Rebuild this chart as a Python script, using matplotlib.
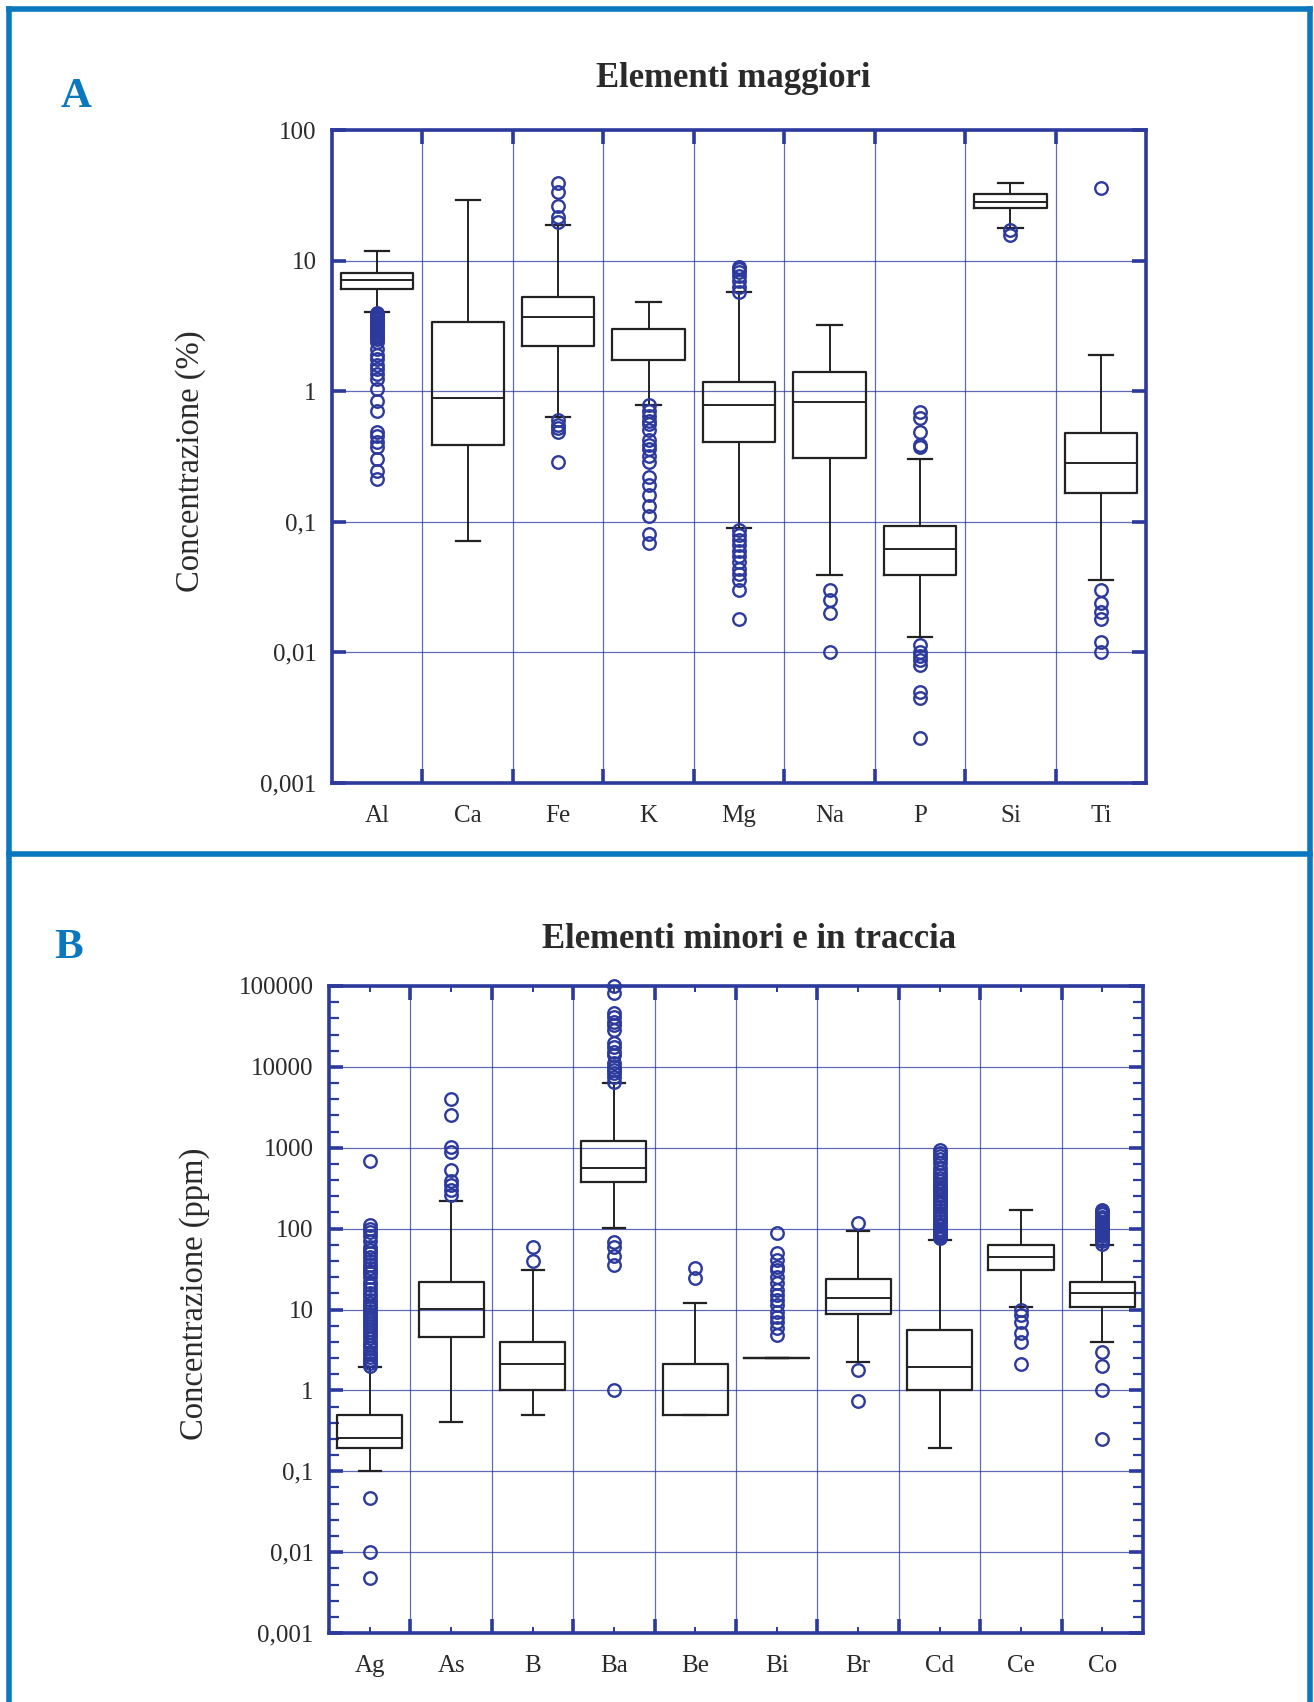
import matplotlib
matplotlib.use('Agg')
import matplotlib.pyplot as plt
from matplotlib.lines import Line2D
from matplotlib.ticker import FixedLocator, NullLocator

plt.rcParams['font.family'] = 'serif'
plt.rcParams['font.serif'] = ['Liberation Serif', 'DejaVu Serif']

# --- A: elementi maggiori (%) ---
maj_names = ['Al', 'Ca', 'Fe', 'K', 'Mg', 'Na', 'P', 'Si', 'Ti']
maj_q1 = [6.1, 0.39, 2.21, 1.73, 0.41, 0.31, 0.039, 25.4, 0.166]
maj_med = [7.06, 0.885, 3.67, 1.73, 0.78, 0.82, 0.062, 28.2, 0.282]
maj_q3 = [8.1, 3.36, 5.22, 2.97, 1.17, 1.40, 0.092, 32.5, 0.478]
maj_lo = [4.07, 0.0716, 0.634, 0.78, 0.09, 0.039, 0.013, 17.9, 0.0355]
maj_hi = [11.9, 29.2, 18.8, 4.86, 5.7, 3.19, 0.30, 39.4, 1.88]
maj_out = [
    [4.0, 3.9, 3.8, 3.7, 3.6, 3.5, 3.4, 3.3, 3.2, 3.1, 3.0, 2.9, 2.8, 2.7,
     2.6, 2.5, 2.4, 2.1, 1.9, 1.75, 1.6, 1.47, 1.35, 1.24, 1.04, 0.84, 0.70,
     0.486, 0.45, 0.41, 0.374, 0.30, 0.245, 0.214],
    [],
    [39, 33.6, 26.3, 21.4, 19.9, 0.60, 0.55, 0.52, 0.49, 0.287],
    [0.78, 0.71, 0.65, 0.59, 0.56, 0.50, 0.42, 0.39, 0.36, 0.32, 0.286,
     0.22, 0.19, 0.159, 0.133, 0.110, 0.081, 0.069],
    [9.0, 8.6, 8.2, 7.6, 7.0, 6.3, 5.8, 0.0859, 0.0786, 0.072, 0.066, 0.060,
     0.055, 0.049, 0.0438, 0.040, 0.0356, 0.030, 0.0179],
    [0.030, 0.025, 0.020, 0.010],
    [0.69, 0.62, 0.486, 0.387, 0.374, 0.0114, 0.0101, 0.0093, 0.0087,
     0.0080, 0.0050, 0.00445, 0.0022],
    [17.2, 15.8],
    [36, 0.030, 0.024, 0.0204, 0.018, 0.012, 0.010],
]
maj_yticks = [0.001, 0.01, 0.1, 1, 10, 100]
maj_ylabels = ['0,001', '0,01', '0,1', '1', '10', '100']

# --- B: elementi minori e in traccia (ppm) ---
min_names = ['Ag', 'As', 'B', 'Ba', 'Be', 'Bi', 'Br', 'Cd', 'Ce', 'Co']
min_q1 = [0.195, 4.58, 1.0, 378, 0.5, 2.5, 8.8, 1.0, 30.9, 10.8]
min_med = [0.259, 10.2, 2.13, 562, 0.5, 2.5, 13.9, 1.95, 44.7, 16.0]
min_q3 = [0.497, 22.2, 3.98, 1213, 2.13, 2.5, 23.9, 5.6, 62.8, 22.2]
min_lo = [0.101, 0.41, 0.5, 102, 0.5, 2.5, 2.25, 0.195, 10.8, 3.98]
min_hi = [1.95, 222, 30.9, 6320, 12.1, 2.5, 93.7, 72.5, 170, 62.8]
min_out = [
    [2.0, 2.2, 2.4, 2.6, 2.8, 3.0, 3.3, 3.6, 4.0, 4.4, 4.8, 5.2, 5.7, 6.2,
     6.8, 7.4, 8.0, 8.7, 9.5, 10.3, 11.2, 12.2, 13.3, 14.5, 16, 18, 20, 22,
     25, 28, 30, 33, 36, 40, 45, 50, 55, 60, 70, 80, 90, 100, 110, 687,
     0.047, 0.010, 0.0048],
    [4010, 2540, 1023, 887, 532, 389, 347, 302, 263],
    [59.4, 40],
    [100000, 81900, 46400, 41400, 35900, 33000, 28600, 19700, 17600, 15300,
     14000, 11200, 9970, 9160, 8410, 7500, 6500, 68.5, 59, 46, 35.6, 1.0],
    [32.7, 24.5],
    [88.5, 50, 41, 33.6, 30.9, 25.3, 21.3, 17.5, 15.1, 13.1, 11.4, 9.3, 8.1,
     7.0, 5.9, 4.85],
    [117, 1.79, 0.74],
    [76, 80, 85, 90, 95, 100, 108, 115, 125, 135, 145, 155, 170, 185, 200,
     215, 230, 250, 270, 290, 310, 330, 360, 390, 420, 460, 500, 560, 640,
     720, 800, 870, 940],
    [9.9, 8.6, 7.0, 5.1, 4.0, 2.13],
    [65, 70, 75, 80, 85, 90, 95, 100, 105, 110, 115, 120, 130, 140, 150,
     160, 170, 3.0, 2.0, 1.0, 0.25],
]
min_yticks = [0.001, 0.01, 0.1, 1, 10, 100, 1000, 10000, 100000]
min_ylabels = ['0,001', '0,01', '0,1', '1', '10', '100', '1000', '10000',
               '100000']

navy = '#2b3a9c'
frame_blue = '#0a78be'
text_col = '#2a2a2a'


def draw_panel(ax, names, q1, med, q3, lo, hi, out, yticks, ylabels,
               minor_ticks):
    stats = []
    for i in range(len(names)):
        stats.append(dict(label=names[i], q1=q1[i], med=med[i], q3=q3[i],
                          whislo=lo[i], whishi=hi[i], fliers=out[i]))
    pos = list(range(1, len(names) + 1))
    ax.bxp(stats, positions=pos, widths=0.8, capwidths=0.27,
           manage_ticks=False, patch_artist=False,
           boxprops=dict(color='#222222', linewidth=1.6),
           medianprops=dict(color='#222222', linewidth=1.4),
           whiskerprops=dict(color='#222222', linewidth=1.4),
           capprops=dict(color='#222222', linewidth=1.6),
           flierprops=dict(marker='o', markerfacecolor='none',
                           markeredgecolor=navy, markersize=9,
                           markeredgewidth=1.7, clip_on=False))
    n = len(names)
    ax.set_yscale('log')
    ax.set_ylim(yticks[0], yticks[-1])
    ax.set_xlim(0.5, n + 0.5)

    ax.yaxis.set_major_locator(FixedLocator(yticks))
    ax.set_yticklabels(ylabels)
    bounds = [i + 0.5 for i in range(1, n)]
    ax.set_xticks(bounds)
    ax.set_xticklabels([''] * len(bounds))
    ax.set_xticks(pos, labels=names, minor=True)

    if minor_ticks:
        ym = []
        for k in range(len(yticks) - 1):
            for j in range(1, 5):
                ym.append(yticks[k] * 10 ** (j / 5))
        ax.yaxis.set_minor_locator(FixedLocator(ym))
        ax.tick_params(axis='y', which='minor', direction='in', length=7,
                       width=1.6, color=navy, left=True, right=True)
        ax.tick_params(axis='x', which='minor', direction='in', length=4,
                       width=1.4, color=navy, top=True, bottom=True)
    else:
        ax.yaxis.set_minor_locator(NullLocator())
        ax.tick_params(axis='x', which='minor', length=0)

    ax.tick_params(axis='both', which='major', direction='in', length=10,
                   width=2.6, color=navy, top=True, right=True)
    ax.tick_params(axis='y', which='major', labelsize=18,
                   labelcolor=text_col, pad=11)
    ax.tick_params(axis='x', which='minor', labelsize=18,
                   labelcolor=text_col, pad=16)

    ax.grid(True, which='major', color=navy, linewidth=0.9, alpha=0.75)
    ax.set_axisbelow(True)
    for sp in ax.spines.values():
        sp.set_color(navy)
        sp.set_linewidth(2.6)


fig = plt.figure(figsize=(13.14, 17.02), dpi=100)

axA = fig.add_axes([0.2527, 0.5400, 0.6195, 0.3836])
draw_panel(axA, maj_names, maj_q1, maj_med, maj_q3, maj_lo, maj_hi, maj_out,
           maj_yticks, maj_ylabels, False)

axB = fig.add_axes([0.2504, 0.0405, 0.6195, 0.3802])
draw_panel(axB, min_names, min_q1, min_med, min_q3, min_lo, min_hi, min_out,
           min_yticks, min_ylabels, True)

# titles, panel letters, axis labels
fig.text(0.558, 0.954, 'Elementi maggiori', ha='center', va='center',
         fontsize=25, fontweight='bold', color=text_col)
fig.text(0.570, 0.448, 'Elementi minori e in traccia', ha='center',
         va='center', fontsize=25, fontweight='bold', color=text_col)
fig.text(0.058, 0.943, 'A', ha='center', va='center', fontsize=31,
         fontweight='bold', color=frame_blue)
fig.text(0.052, 0.443, 'B', ha='center', va='center', fontsize=31,
         fontweight='bold', color=frame_blue)
fig.text(0.145, 0.729, 'Concentrazione (%)', rotation=90, ha='center',
         va='center', fontsize=23.5, color=text_col)
fig.text(0.148, 0.240, 'Concentrazione (ppm)', rotation=90, ha='center',
         va='center', fontsize=23.5, color=text_col)

# blue frame around the two panels
lw = 4.0
fig.add_artist(Line2D([0.0068, 0.0068], [0, 0.9947], color=frame_blue, lw=lw))
fig.add_artist(Line2D([0.9970, 0.9970], [0, 0.9947], color=frame_blue, lw=lw))
fig.add_artist(Line2D([0.0068, 0.9970], [0.9947, 0.9947], color=frame_blue, lw=lw))
fig.add_artist(Line2D([0.0068, 0.9970], [0.4982, 0.4982], color=frame_blue, lw=lw))

fig.savefig('out.png', dpi=100)
